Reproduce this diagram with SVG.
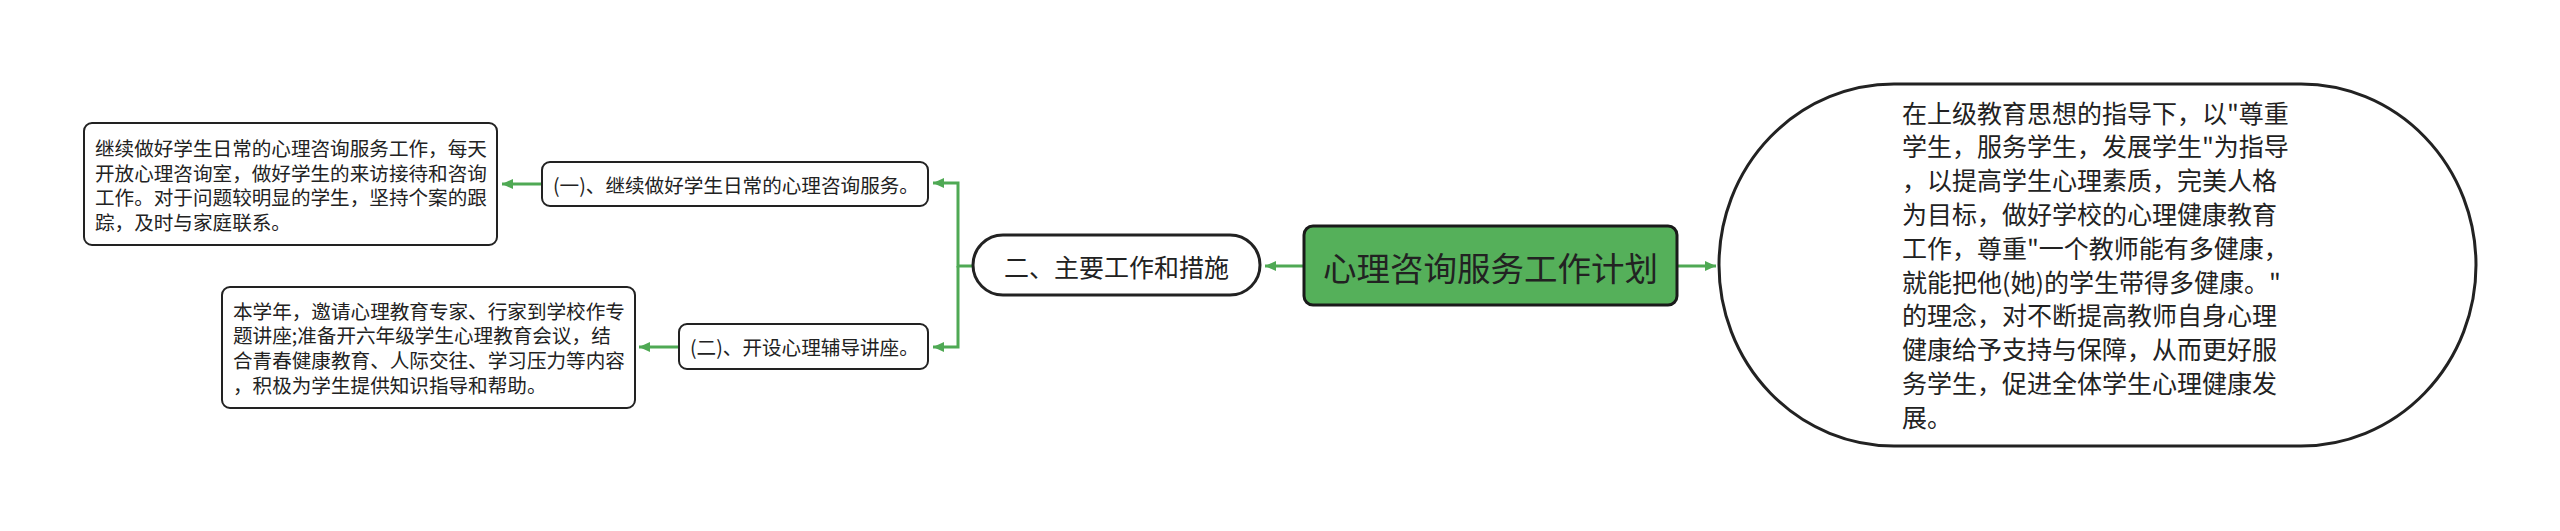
<svg xmlns="http://www.w3.org/2000/svg" width="2560" height="531" viewBox="0 0 2560 531">
<style>
  .t { font-family: "Noto Sans CJK SC", "Noto Sans", sans-serif; fill: #222; }
  .box { fill: #fff; stroke: #222; }
  .conn { fill: none; stroke: #4fa954; stroke-width: 3; }
</style>
<defs>
  <marker id="arr" markerUnits="userSpaceOnUse" markerWidth="12" markerHeight="12" refX="11" refY="6" orient="auto">
    <path d="M0,1 L11,6 L0,11 Z" fill="#4fa954"/>
  </marker>
</defs>
<rect width="2560" height="531" fill="#fff"/>
<g id="connectors">
  <path class="conn" d="M1677 266 H1716" marker-end="url(#arr)"/>
  <path class="conn" d="M1304 266 H1265" marker-end="url(#arr)"/>
  <path class="conn" d="M973 266 H958 V183 H933" marker-end="url(#arr)"/>
  <path class="conn" d="M958 266 V347 H933" marker-end="url(#arr)"/>
  <path class="conn" d="M542 184 H502" marker-end="url(#arr)"/>
  <path class="conn" d="M679 347 H639" marker-end="url(#arr)"/>
</g>
<g id="root">
  <rect x="1304" y="226" width="373" height="79" rx="9" fill="#55b05a" stroke="#1a1a1a" stroke-width="3"/>
  <text class="t" x="1490.5" y="280.5" font-size="33.5" text-anchor="middle">心理咨询服务工作计划</text>
</g>
<g id="intro">
  <rect class="box" x="1719" y="84" width="757" height="362" rx="175" ry="181" stroke-width="3"/>
  <text class="t" font-size="25">
    <tspan x="1902" y="122.5">在上级教育思想的指导下，以"尊重</tspan>
    <tspan x="1902" y="156.3">学生，服务学生，发展学生"为指导</tspan>
    <tspan x="1902" y="190.1">，以提高学生心理素质，完美人格</tspan>
    <tspan x="1902" y="223.9">为目标，做好学校的心理健康教育</tspan>
    <tspan x="1902" y="257.7">工作，尊重"一个教师能有多健康，</tspan>
    <tspan x="1902" y="291.5">就能把他(她)的学生带得多健康。"</tspan>
    <tspan x="1902" y="325.3">的理念，对不断提高教师自身心理</tspan>
    <tspan x="1902" y="359.1">健康给予支持与保障，从而更好服</tspan>
    <tspan x="1902" y="392.9">务学生，促进全体学生心理健康发</tspan>
    <tspan x="1902" y="426.7">展。</tspan>
  </text>
</g>
<g id="main">
  <rect class="box" x="973" y="235" width="287" height="60" rx="30" stroke-width="3"/>
  <text class="t" x="1116.5" y="276.5" font-size="25" text-anchor="middle">二、主要工作和措施</text>
</g>
<g id="sub1">
  <rect class="box" x="542" y="162" width="386" height="44" rx="8" stroke-width="2"/>
  <text class="t" x="553" y="192.5" font-size="19.6">(一)、继续做好学生日常的心理咨询服务。</text>
</g>
<g id="sub2">
  <rect class="box" x="679" y="324" width="249" height="45" rx="8" stroke-width="2"/>
  <text class="t" x="690" y="354.5" font-size="19.6">(二)、开设心理辅导讲座。</text>
</g>
<g id="detail1">
  <rect class="box" x="84" y="123" width="413" height="122" rx="8" stroke-width="2"/>
  <text class="t" font-size="19.6">
    <tspan x="95" y="156.1">继续做好学生日常的心理咨询服务工作，每天</tspan>
    <tspan x="95" y="180.7">开放心理咨询室，做好学生的来访接待和咨询</tspan>
    <tspan x="95" y="205.3">工作。对于问题较明显的学生，坚持个案的跟</tspan>
    <tspan x="95" y="229.9">踪，及时与家庭联系。</tspan>
  </text>
</g>
<g id="detail2">
  <rect class="box" x="222" y="287" width="413" height="121" rx="8" stroke-width="2"/>
  <text class="t" font-size="19.6">
    <tspan x="233" y="318.7">本学年，邀请心理教育专家、行家到学校作专</tspan>
    <tspan x="233" y="343.3">题讲座;准备开六年级学生心理教育会议，结</tspan>
    <tspan x="233" y="367.9">合青春健康教育、人际交往、学习压力等内容</tspan>
    <tspan x="233" y="392.5">，积极为学生提供知识指导和帮助。</tspan>
  </text>
</g>
</svg>
